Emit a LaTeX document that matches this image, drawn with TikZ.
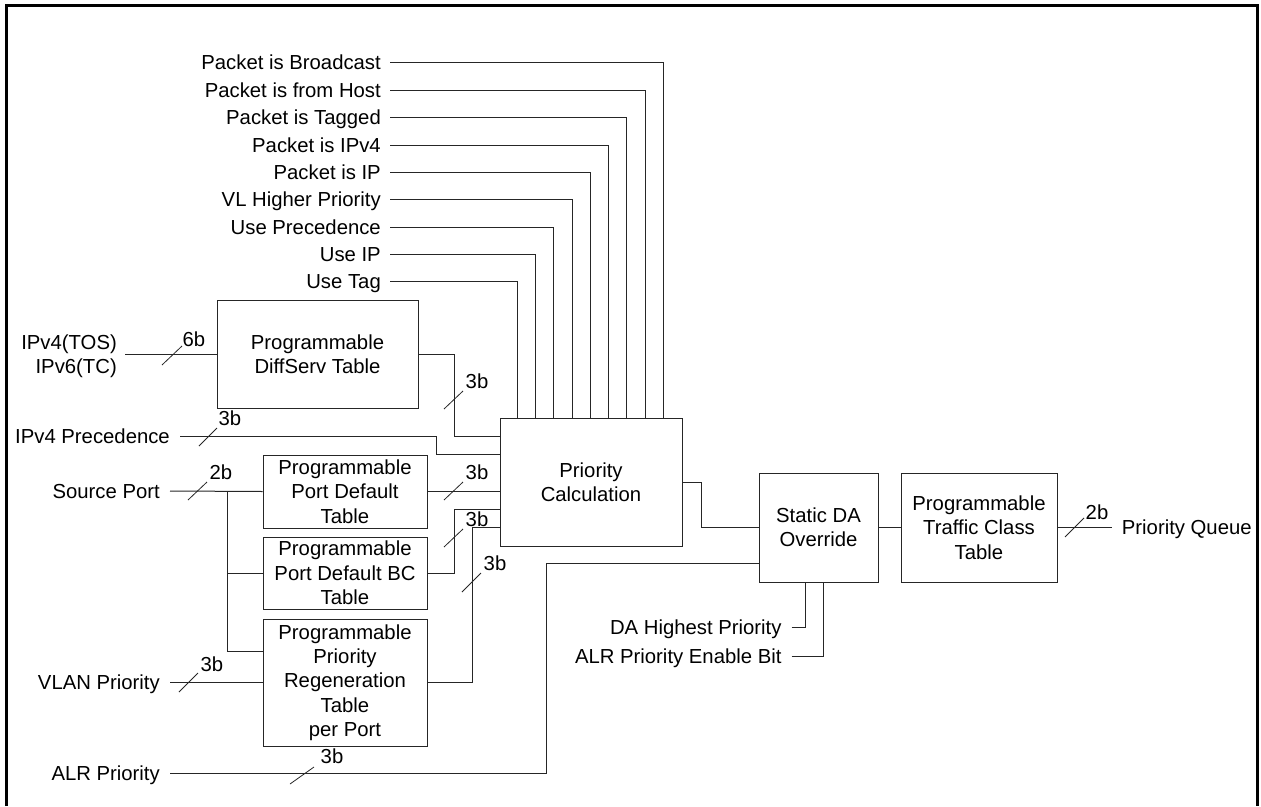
\documentclass[tikz,border=0pt]{standalone}
\usepackage{fontspec}
\setmainfont{Liberation Sans}
\begin{document}
\begin{tikzpicture}[x=1pt,y=-1pt,
  every node/.style={font=\fontsize{20.3}{24.3}\selectfont},
  lbl/.style={inner sep=0pt, text height=14.5pt, text depth=0pt},
  blk/.style={draw=black!85, line width=1pt, align=center, inner sep=0pt},
  wire/.style={draw=black!85, line width=1pt},
  busmark/.style={draw=black!85, line width=0.8pt},
  frame/.style={draw=black, line width=3pt}
]
\useasboundingbox (0,0) rectangle (1261,806);
\draw[frame] (6.5,806) -- (6.5,5.5) -- (1257.5,5.5) -- (1257.5,806);

% blocks
\node[blk, minimum width=201pt, minimum height=108pt] (ds) at (317.5,354) {Programmable\\DiffServ Table};
\node[blk, minimum width=164pt, minimum height=73pt] (pd) at (345,491.5) {Programmable\\Port Default\\Table};
\node[blk, minimum width=164pt, minimum height=72pt] (pbc) at (345,573) {Programmable\\Port Default BC\\Table};
\node[blk, minimum width=164pt, minimum height=127pt] (rg) at (345,682.5) {Programmable\\Priority\\Regeneration\\Table\\per Port};
\node[blk, minimum width=182pt, minimum height=128pt] (pc) at (591,482) {Priority\\Calculation};
\node[blk, minimum width=119pt, minimum height=109pt] (sda) at (818.5,527.5) {Static DA\\Override};
\node[blk, minimum width=156pt, minimum height=109pt] (tc) at (979,527.5) {Programmable\\Traffic Class\\Table};

% top control inputs
\foreach \t/\y/\dx [count=\i] in {Packet is Broadcast/62/164, Packet is from Host/90/146, Packet is Tagged/117.5/127, Packet is IPv4/145/109, Packet is IP/172/91, VL Higher Priority/199.5/73, Use Precedence/227/54, Use IP/254/36, Use Tag/281/18} {
  \node[lbl, anchor=east] (top\i) at (381,\y) {\t};
  \draw[wire] ([xshift=9pt]top\i.east) -| ([xshift=\dx pt]pc.north west);
}

% left inputs
\node[align=right, inner sep=0pt, anchor=east] (ipv) at (117,356.5) {IPv4(TOS)\\IPv6(TC)};
\node[lbl, anchor=east] (iprec) at (170,436) {IPv4 Precedence};
\node[lbl, anchor=east] (sp) at (160,491) {Source Port};
\node[lbl, anchor=east] (vl) at (160,682) {VLAN Priority};
\node[lbl, anchor=east] (alr) at (160,773) {ALR Priority};
\node[lbl, anchor=east] (dah) at (781.7,627) {DA Highest Priority};
\node[lbl, anchor=east] (ape) at (781.7,656) {ALR Priority Enable Bit};
\node[lbl, anchor=west] (pq) at (1121.7,527.5) {Priority Queue};

% connectors
\draw[wire] ([xshift=8pt]ipv.east |- ds.west) -- (ds.west);
\draw[wire] (ds.east) -- ++(36,0) |- ([yshift=46pt]pc.west);
\draw[wire] ([xshift=10pt]iprec.east) -- ++(256,0) |- ([yshift=28pt]pc.west);
\draw[wire] ([xshift=10pt]sp.east) -- (pd.west);
\coordinate (bus) at (227,491);
\draw[wire] (bus) |- ([yshift=31.5pt]rg.west);
\draw[wire] (bus |- pbc.west) -- (pbc.west);
\draw[wire] (pd.east) -- (pd.east -| pc.west);
\draw[wire] (pbc.east) -- ++(27,0) |- ([yshift=-27pt]pc.west);
\draw[wire] (rg.east) -- ++(45,0) |- ([yshift=-45.5pt]pc.west);
\draw[wire] ([xshift=10pt]vl.east) -- (vl.east -| rg.west);
\draw[wire] ([xshift=10pt]alr.east) -- ++(376,0) |- ([yshift=-36pt]sda.west);
\draw[wire] (pc.east) -- ++(18.5,0) |- (sda.west);
\draw[wire] (sda.east) -- (tc.west);
\draw[wire] (tc.east) -- ([xshift=-10pt]pq.west);
\draw[wire] ([xshift=10pt]dah.east) -| ([xshift=-13pt]sda.south);
\draw[wire] ([xshift=10pt]ape.east) -| ([xshift=5pt]sda.south);

% bus width marks
\draw[busmark] (162,365) -- (182,346);
\node[lbl] (w1) at (194,339) {6b};
\draw[busmark] (199,446) -- (217,428);
\node[lbl] (w2) at (230,418) {3b};
\draw[busmark] (444,409) -- (463,391);
\node[lbl] (w3) at (477,381) {3b};
\draw[busmark] (188,500) -- (207,482);
\node[lbl] (w4) at (221,472) {2b};
\draw[busmark] (444,500) -- (463,482);
\node[lbl] (w5) at (477,472) {3b};
\draw[busmark] (444,547) -- (463,529);
\node[lbl] (w6) at (477,519) {3b};
\draw[busmark] (462,592) -- (481,573);
\node[lbl] (w7) at (495,563) {3b};
\draw[busmark] (179,692) -- (198,673);
\node[lbl] (w8) at (212,664) {3b};
\draw[busmark] (290,784) -- (314,767);
\node[lbl] (w9) at (332,756) {3b};
\draw[busmark] (1065,537) -- (1084,518);
\node[lbl] (w10) at (1097,512) {2b};
\end{tikzpicture}
\end{document}
